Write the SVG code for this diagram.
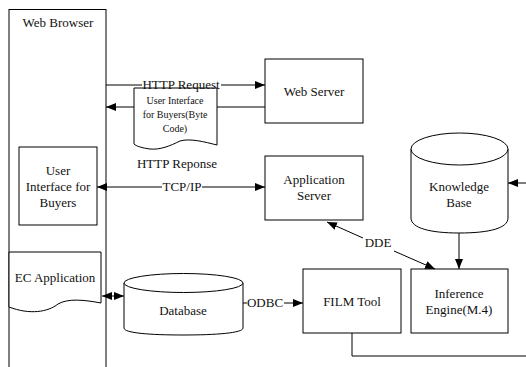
<svg xmlns="http://www.w3.org/2000/svg" width="526" height="367" viewBox="0 0 526 367">
<style>
.s{fill:#fff;stroke:#000;stroke-width:1}
.c{fill:none;stroke:#000;stroke-width:1}
text{font-family:'Liberation Serif','Times New Roman',Times,serif;font-size:13px;fill:#111;text-anchor:middle}
.sm{font-size:10px}
</style>
<defs>
<marker id="ah" viewBox="0 0 10 8" refX="10" refY="4" markerWidth="10" markerHeight="8" markerUnits="userSpaceOnUse" orient="auto-start-reverse">
<path d="M0,0 L10,4 L0,8 Z" fill="#000"/>
</marker>
</defs>
<rect width="526" height="367" fill="#fff"/>
<g font-family="Liberation Serif, serif">
<g id="web-browser">
<rect class="s" x="9" y="9.5" width="97" height="370"/>
<text x="58" y="27">Web Browser</text>
</g>
<g id="web-server">
<rect class="s" x="265" y="59" width="98" height="64"/>
<text x="314" y="96">Web Server</text>
</g>
<g id="ui-bytecode">
<path class="s" d="M134,88 H217 V145 C205,142 190,138 180,141 C170,146 160,150 150,149 C142,148 136,146 134,144 Z"/>
<text class="sm" x="175" y="104">User Interface</text>
<text class="sm" x="175" y="118">for Buyers(Byte</text>
<text class="sm" x="175" y="132">Code)</text>
</g>
<g id="ui-buyers">
<rect class="s" x="19" y="147" width="78" height="78"/>
<text x="58" y="175">User</text>
<text x="58" y="191">Interface for</text>
<text x="58" y="207">Buyers</text>
</g>
<g id="app-server">
<rect class="s" x="265" y="156" width="98" height="64"/>
<text x="314" y="184">Application</text>
<text x="314" y="200">Server</text>
</g>
<g id="knowledge-base">
<path class="s" d="M411,149 V218 C411,228 430,233 459,233 C490,233 508,228 508,218 V149"/>
<ellipse class="s" cx="459.5" cy="149" rx="48.5" ry="16"/>
<text x="459" y="191">Knowledge</text>
<text x="459" y="207">Base</text>
</g>
<g id="ec-application">
<path class="s" d="M9,252 H101 V303 C85,300 68,298 58,304 C48,312 30,315 9,307 Z"/>
<text x="55" y="282">EC Application</text>
</g>
<g id="database">
<path class="s" d="M124,283 V328 C124,333 150,335 183,335 C216,335 243,333 243,328 V283"/>
<ellipse class="s" cx="183.5" cy="283" rx="59.5" ry="9.5"/>
<text x="183" y="315">Database</text>
</g>
<g id="film-tool">
<rect class="s" x="303" y="269" width="98" height="64"/>
<text x="352" y="306">FILM Tool</text>
</g>
<g id="inference-engine">
<rect class="s" x="411" y="269" width="97" height="64"/>
<text x="459" y="298">Inference</text>
<text x="459" y="314">Engine(M.4)</text>
</g>
<g id="connectors">
<line class="c" x1="106" y1="85" x2="142" y2="85"/>
<line class="c" x1="221" y1="85" x2="265" y2="85" marker-end="url(#ah)"/>
<text x="181" y="89">HTTP Request</text>
<line class="c" x1="265" y1="107" x2="217" y2="107"/>
<line class="c" x1="134" y1="107" x2="106" y2="107" marker-end="url(#ah)"/>
<text x="177" y="168">HTTP Reponse</text>
<line class="c" x1="97" y1="187" x2="162" y2="187" marker-start="url(#ah)"/>
<line class="c" x1="202" y1="187" x2="265" y2="187" marker-end="url(#ah)"/>
<text x="182" y="191">TCP/IP</text>
<line class="c" x1="327" y1="222" x2="363" y2="238" marker-start="url(#ah)"/>
<line class="c" x1="394" y1="251" x2="435" y2="269" marker-end="url(#ah)"/>
<text x="378" y="247">DDE</text>
<line class="c" x1="102" y1="296" x2="124" y2="296" marker-start="url(#ah)" marker-end="url(#ah)"/>
<line class="c" x1="243" y1="303" x2="247" y2="303"/>
<line class="c" x1="284" y1="303" x2="303" y2="303" marker-end="url(#ah)"/>
<text x="265" y="307">ODBC</text>
<line class="c" x1="459" y1="233" x2="459" y2="269" marker-end="url(#ah)"/>
<line class="c" x1="526" y1="183" x2="508" y2="183" marker-end="url(#ah)"/>
<polyline class="c" points="352,333 352,356 526,356"/>
</g>
</g>
</svg>
